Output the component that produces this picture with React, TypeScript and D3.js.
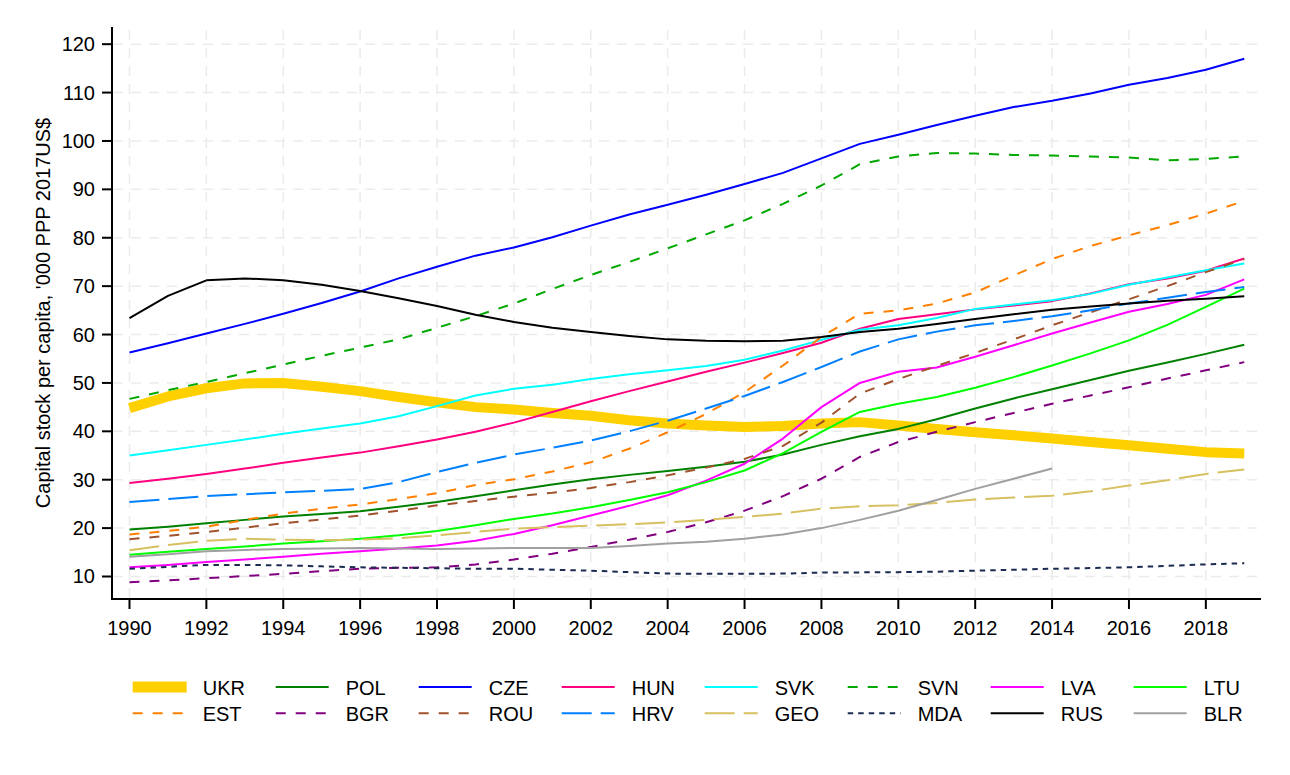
import React from 'react';
import * as d3 from 'd3';

// years on the x axis
const YEARS: number[] = d3.range(1990, 2020);
const X_TICKS: number[] = d3.range(1990, 2019, 2);
const Y_TICKS: number[] = d3.range(10, 121, 10);

// capital stock per capita, '000 PPP 2017US$, one value per year from 1990
const UKR = [44.8, 47.2, 48.9, 49.9, 50.0, 49.2, 48.3, 47.1, 46.0, 45.0, 44.5, 43.8, 43.2, 42.3, 41.6, 41.2, 40.9, 41.1, 41.6, 41.9, 41.2, 40.5, 39.8, 39.2, 38.5, 37.8, 37.1, 36.4, 35.7, 35.4];
const POL = [19.7, 20.3, 21.0, 21.7, 22.4, 22.9, 23.5, 24.4, 25.4, 26.6, 27.8, 29.0, 30.1, 31.0, 31.8, 32.7, 33.7, 35.2, 37.2, 39.0, 40.5, 42.5, 44.7, 46.8, 48.7, 50.6, 52.5, 54.2, 56.0, 57.9];
const CZE = [56.3, 58.2, 60.2, 62.2, 64.3, 66.5, 68.9, 71.6, 74.0, 76.3, 78.0, 80.1, 82.5, 84.8, 86.8, 88.9, 91.1, 93.4, 96.4, 99.4, 101.3, 103.3, 105.2, 107.0, 108.3, 109.8, 111.6, 113.0, 114.7, 117.0];
const HUN = [29.3, 30.2, 31.2, 32.3, 33.5, 34.6, 35.6, 36.9, 38.3, 39.9, 41.8, 44.0, 46.2, 48.3, 50.3, 52.3, 54.2, 56.2, 58.3, 61.2, 63.2, 64.2, 65.2, 66.0, 66.9, 68.5, 70.4, 71.6, 73.2, 75.7];
const SVK = [35.0, 36.1, 37.2, 38.3, 39.5, 40.6, 41.6, 43.1, 45.2, 47.4, 48.8, 49.6, 50.8, 51.8, 52.6, 53.5, 54.8, 56.7, 58.9, 61.0, 61.9, 63.4, 65.3, 66.2, 67.1, 68.4, 70.3, 71.8, 73.3, 74.7];
const SVN = [46.7, 48.5, 50.2, 52.0, 53.8, 55.6, 57.3, 59.0, 61.4, 63.8, 66.4, 69.4, 72.3, 75.0, 77.8, 80.7, 83.6, 87.0, 90.8, 95.2, 96.8, 97.5, 97.4, 97.1, 97.0, 96.8, 96.6, 96.0, 96.3, 96.8];
const LVA = [11.9, 12.4, 13.0, 13.5, 14.1, 14.7, 15.2, 15.8, 16.4, 17.4, 18.8, 20.6, 22.6, 24.6, 26.8, 29.8, 33.3, 38.5, 45.0, 50.0, 52.3, 53.2, 55.4, 57.8, 60.2, 62.5, 64.7, 66.3, 68.2, 71.4];
const LTU = [14.5, 15.1, 15.7, 16.2, 16.8, 17.3, 17.8, 18.5, 19.4, 20.6, 21.9, 23.0, 24.3, 25.8, 27.4, 29.5, 31.9, 35.5, 39.9, 44.0, 45.7, 47.1, 49.0, 51.2, 53.6, 56.1, 58.8, 62.0, 65.7, 69.5];
const EST = [18.7, 19.4, 20.3, 21.7, 23.0, 24.0, 24.9, 26.0, 27.2, 28.9, 30.1, 31.7, 33.6, 36.4, 39.8, 43.6, 48.1, 53.6, 59.5, 64.3, 65.0, 66.4, 68.7, 72.2, 75.6, 78.3, 80.5, 82.6, 85.0, 87.6];
const BGR = [8.8, 9.2, 9.65, 10.1, 10.55, 11.1, 11.6, 11.8, 11.9, 12.5, 13.5, 14.7, 16.1, 17.6, 19.2, 21.2, 23.6, 26.6, 30.2, 34.7, 37.8, 39.9, 41.9, 43.8, 45.7, 47.4, 49.1, 50.9, 52.6, 54.3];
const ROU = [17.7, 18.4, 19.2, 20.1, 21.0, 21.8, 22.6, 23.6, 24.7, 25.6, 26.5, 27.3, 28.3, 29.5, 30.9, 32.5, 34.3, 37.0, 41.8, 47.8, 50.8, 53.5, 56.2, 59.0, 61.9, 64.6, 67.3, 70.0, 72.9, 75.6];
const HRV = [25.4, 26.0, 26.6, 27.0, 27.4, 27.7, 28.1, 29.5, 31.6, 33.5, 35.2, 36.6, 38.1, 40.0, 42.2, 44.7, 47.3, 50.2, 53.3, 56.5, 59.0, 60.6, 61.9, 62.8, 63.8, 65.0, 66.4, 67.6, 68.8, 69.8];
const GEO = [15.4, 16.5, 17.4, 17.8, 17.6, 17.5, 17.6, 17.9, 18.5, 19.2, 19.9, 20.2, 20.5, 20.8, 21.2, 21.7, 22.3, 23.0, 24.0, 24.5, 24.7, 25.2, 25.9, 26.3, 26.7, 27.6, 28.8, 29.9, 31.2, 32.1];
const MDA = [11.6, 12.0, 12.4, 12.4, 12.3, 12.1, 11.9, 11.8, 11.7, 11.6, 11.6, 11.4, 11.2, 10.9, 10.6, 10.55, 10.55, 10.6, 10.8, 10.85, 10.9, 11.0, 11.2, 11.4, 11.6, 11.75, 11.9, 12.2, 12.5, 12.75];
const RUS = [63.4, 68.0, 71.2, 71.6, 71.2, 70.3, 69.0, 67.5, 65.9, 64.1, 62.6, 61.4, 60.5, 59.7, 59.0, 58.7, 58.6, 58.7, 59.5, 60.5, 61.2, 62.2, 63.2, 64.2, 65.1, 65.8, 66.4, 67.0, 67.4, 67.9];
// BLR stops in 2014
const BLR = [14.1, 14.6, 15.2, 15.5, 15.7, 15.8, 15.9, 15.8, 15.7, 15.8, 15.9, 15.9, 15.9, 16.3, 16.8, 17.2, 17.8, 18.7, 20.0, 21.7, 23.6, 25.8, 28.1, 30.2, 32.3];

interface Series {
  name: string;
  values: number[];
  color: string;
  dash?: string;
  width: number;
}

const DASH = '10,10';
const LONGDASH = '30,9';
const SHORTDASH = '5.5,5';
const LW = 2;

// legend order: first row then second row
const SERIES: Series[] = [
  { name: 'UKR', values: UKR, color: '#ffd000', width: 10 },
  { name: 'POL', values: POL, color: '#008000', width: LW },
  { name: 'CZE', values: CZE, color: '#0000ff', width: LW },
  { name: 'HUN', values: HUN, color: '#ff0080', width: LW },
  { name: 'SVK', values: SVK, color: '#00ffff', width: LW },
  { name: 'SVN', values: SVN, color: '#00a800', dash: DASH, width: LW },
  { name: 'LVA', values: LVA, color: '#ff00ff', width: LW },
  { name: 'LTU', values: LTU, color: '#00ff00', width: LW },
  { name: 'EST', values: EST, color: '#ff8000', dash: DASH, width: LW },
  { name: 'BGR', values: BGR, color: '#800080', dash: DASH, width: LW },
  { name: 'ROU', values: ROU, color: '#a0522d', dash: DASH, width: LW },
  { name: 'HRV', values: HRV, color: '#0080ff', dash: LONGDASH, width: LW },
  { name: 'GEO', values: GEO, color: '#d6c060', dash: LONGDASH, width: LW },
  { name: 'MDA', values: MDA, color: '#1c2b50', dash: SHORTDASH, width: LW },
  { name: 'RUS', values: RUS, color: '#000000', width: LW },
  { name: 'BLR', values: BLR, color: '#a0a0a0', width: LW },
];

const W = 1290;
const H = 775;
const plot = { left: 112, right: 1261, top: 27, bottom: 599 };
const FONT = '"Liberation Sans", Arial, Helvetica, sans-serif';

export default function App() {
  const x = d3.scaleLinear().domain([1989.545, 2019.435]).range([plot.left, plot.right]);
  const y = d3.scaleLinear().domain([5.35, 123.55]).range([plot.bottom, plot.top]);

  const line = d3
    .line<number>()
    .x((_, i) => x(YEARS[i]))
    .y(d => y(d));

  // legend grid: 8 columns, 2 rows
  const colX = (i: number) => 132.7 + i * 143;
  const rowY = [687, 713.3];

  return (
    <div style={{ position: 'absolute', left: 0, top: 0 }}>
      <svg width={W} height={H} style={{ display: 'block', background: '#fff' }} fontFamily={FONT}>
        <rect width={W} height={H} fill="#fff" />

        {/* grid */}
        {Y_TICKS.map(t => (
          <line key={'gy' + t} x1={plot.left + 1} x2={plot.right} y1={y(t)} y2={y(t)}
            stroke="#ebebeb" strokeWidth={1.5} strokeDasharray="10,8" />
        ))}
        {X_TICKS.map(t => (
          <line key={'gx' + t} x1={x(t)} x2={x(t)} y1={plot.bottom - 1} y2={plot.top}
            stroke="#ebebeb" strokeWidth={1.5} strokeDasharray="10,8" />
        ))}

        {/* series */}
        {SERIES.map(s => (
          <path key={s.name} d={line(s.values) || ''} fill="none" stroke={s.color}
            strokeWidth={s.width} strokeDasharray={s.dash} strokeLinejoin="round" />
        ))}

        {/* axes */}
        <line x1={plot.left} x2={plot.left} y1={plot.top} y2={plot.bottom + 1} stroke="#000" strokeWidth={2} />
        <line x1={plot.left - 1} x2={plot.right} y1={plot.bottom} y2={plot.bottom} stroke="#000" strokeWidth={2} />

        {Y_TICKS.map(t => (
          <g key={'ty' + t}>
            <line x1={plot.left - 10} x2={plot.left} y1={y(t)} y2={y(t)} stroke="#000" strokeWidth={2} />
            <text x={95} y={y(t) + 7} textAnchor="end" fontSize={20} fill="#000">{t}</text>
          </g>
        ))}
        {X_TICKS.map(t => (
          <g key={'tx' + t}>
            <line x1={x(t)} x2={x(t)} y1={plot.bottom} y2={plot.bottom + 10} stroke="#000" strokeWidth={2} />
            <text x={x(t)} y={635} textAnchor="middle" fontSize={20} fill="#000">{t}</text>
          </g>
        ))}

        <text transform={`translate(50, ${(plot.top + plot.bottom) / 2}) rotate(-90)`}
          textAnchor="middle" fontSize={20} fill="#000">
          Capital stock per capita, '000 PPP 2017US$
        </text>

        {/* legend */}
        {SERIES.map((s, i) => {
          const cx = colX(i % 8);
          const cy = rowY[Math.floor(i / 8)];
          return (
            <g key={'lg' + s.name}>
              {s.name === 'UKR' ? (
                <rect x={cx} y={cy - 5.5} width={54} height={11} fill={s.color} />
              ) : (
                <line x1={cx} x2={cx + 53} y1={cy} y2={cy} stroke={s.color}
                  strokeWidth={2} strokeDasharray={s.dash} />
              )}
              <text x={cx + 70} y={cy + 7.5} fontSize={20} fill="#000">{s.name}</text>
            </g>
          );
        })}
      </svg>
    </div>
  );
}
